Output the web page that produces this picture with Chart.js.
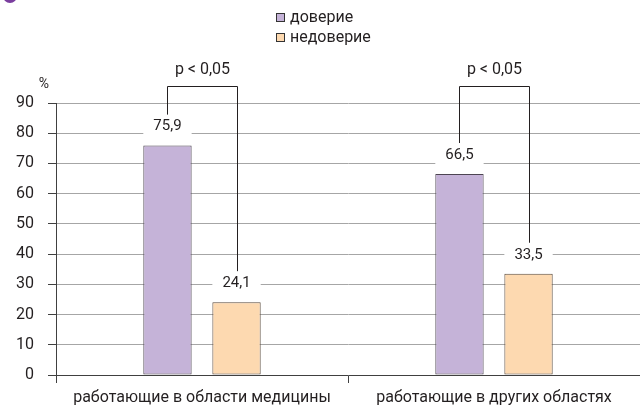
<!DOCTYPE html>
<html>
<head>
<meta charset="utf-8">
<script src="https://cdn.jsdelivr.net/npm/chart.js@4"></script>
<style>
  html, body { margin: 0; padding: 0; background: #fff; }
  #chart { display: block; }
</style>
</head>
<body>
<canvas id="chart" width="640" height="407"></canvas>
<script>
// data
const categories = ['работающие в области медицины', 'работающие в других областях'];
const seriesNames = ['доверие', 'недоверие'];
const trustValues = [75.9, 66.5];
const distrustValues = [24.1, 33.5];
const pLabels = ['p < 0,05', 'p < 0,05'];
const yMax = 90;
const yStep = 10;
const yUnit = '%';

const FONT = "Roboto, sans-serif";
const textColor = '#231f20';

function fmt(v){
    return v.toFixed(1).replace('.', ',');
}

// labels above bars, brackets, legend
const extras = {
    id: 'extras',
    afterDatasetsDraw(chart){
        const ctx = chart.ctx;
        const m0 = chart.getDatasetMeta(0).data;
        const m1 = chart.getDatasetMeta(1).data;
        ctx.save();
        ctx.font = '15px ' + FONT;
        ctx.textAlign = 'center';
        ctx.textBaseline = 'middle';

        // value labels with white box that breaks gridlines
        [m0, m1].forEach(function(bars, di){
            bars.forEach(function(bar, i){
                const v = chart.data.datasets[di].data[i];
                const cy = bar.y - 19;
                ctx.fillStyle = '#fff';
                ctx.fillRect(bar.x - bar.width/2, cy - 9, bar.width, 18);
                ctx.fillStyle = textColor;
                ctx.fillText(fmt(v), bar.x, cy);
            });
        });

        // brackets
        ctx.strokeStyle = '#231f20';
        ctx.lineWidth = 1;
        ctx.font = '16px ' + FONT;
        const topY = 86.5;
        m0.forEach(function(bar, i){
            const b2 = m1[i];
            const x1 = Math.round(bar.x) + 0.5;
            const x2 = Math.round(b2.x) + 0.5;
            ctx.beginPath();
            ctx.moveTo(x1, bar.y - 31);
            ctx.lineTo(x1, topY);
            ctx.lineTo(x2, topY);
            ctx.lineTo(x2, b2.y - 31);
            ctx.stroke();
            ctx.fillStyle = textColor;
            ctx.fillText(pLabels[i], (x1 + x2)/2, 70);
        });

        // legend
        const colors = chart.data.datasets.map(d => d.backgroundColor);
        seriesNames.forEach(function(name, i){
            const y = 18 + i*20;
            ctx.fillStyle = colors[i];
            ctx.fillRect(276.5, y - 4.5, 8, 8);
            ctx.strokeStyle = '#333';
            ctx.strokeRect(276.5, y - 4.5, 8, 8);
            ctx.fillStyle = textColor;
            ctx.textAlign = 'left';
            ctx.fillText(name, 290, y);
        });

        // unit
        ctx.font = '14px ' + FONT;
        ctx.textAlign = 'center';
        ctx.fillText(yUnit, 44, 84);

        // cut-off marker at top left
        ctx.fillStyle = '#7a3d9e';
        ctx.beginPath();
        ctx.arc(10, -4, 7, 0, Math.PI*2);
        ctx.fill();
        ctx.restore();
    }
};

const data = {
    labels: categories,
    datasets: [{
        label: seriesNames[0],
        data: trustValues,
        backgroundColor: '#c5b3d8',
        borderColor: '#4d4552',
        borderWidth: 1,
        borderSkipped: false,
        categoryPercentage: 0.473,
        barPercentage: 0.7
    }, {
        label: seriesNames[1],
        data: distrustValues,
        backgroundColor: '#fdd9b0',
        borderColor: '#5a4a3c',
        borderWidth: 1,
        borderSkipped: false,
        categoryPercentage: 0.473,
        barPercentage: 0.7
    }]
};

const options = {
    animation: false,
    responsive: false,
    layout: {
        padding: { top: 103, left: 0, right: -6, bottom: 0 }
    },
    plugins: {
        legend: { display: false },
        tooltip: { enabled: false }
    },
    scales: {
        x: {
            offset: true,
            grid: {
                offset: true,
                drawOnChartArea: false,
                drawTicks: true,
                tickLength: 8,
                color: '#404040'
            },
            border: { color: '#404040', width: 1 },
            ticks: {
                color: textColor,
                font: { family: FONT, size: 16 },
                padding: 5
            },
            afterFit: function(scale){ scale.height = 32; }
        },
        y: {
            min: 0,
            max: yMax,
            grid: {
                color: '#a6a6a6',
                tickLength: 8,
                tickColor: '#404040'
            },
            border: { color: '#404040', width: 1 },
            ticks: {
                stepSize: yStep,
                color: textColor,
                font: { family: FONT, size: 16 },
                padding: 14
            },
            afterFit: function(scale){ scale.width = 56; }
        }
    }
};

new Chart(document.getElementById('chart').getContext('2d'), {
    type: 'bar',
    data: data,
    options: options,
    plugins: [extras]
});
</script>
</body>
</html>
